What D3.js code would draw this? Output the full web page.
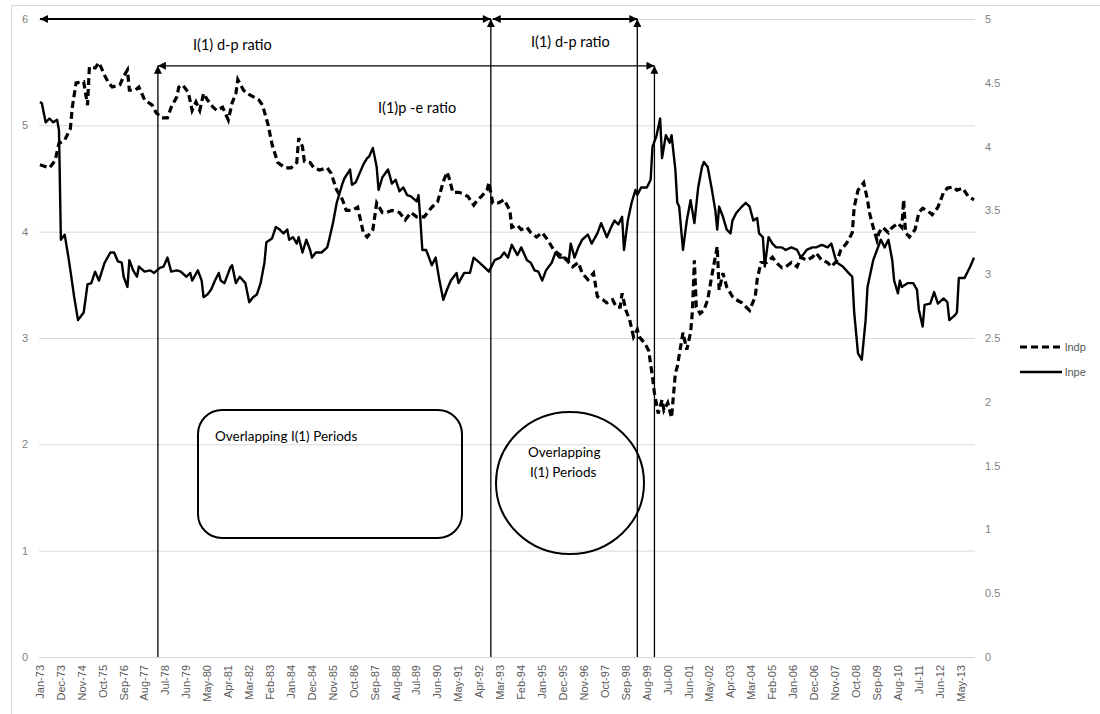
<!DOCTYPE html>
<html>
<head>
<meta charset="utf-8">
<script src="https://cdn.jsdelivr.net/npm/d3@7"></script>
<style>
  body { margin: 0; background: #fff; }
  svg { display: block; }
</style>
</head>
<body>
<div id="chart"></div>
<script>
// monthly categories Jan-73 .. Dec-13, labels every 11th month
const monthCount = 492;
const tickLabels = ['Jan-73','Dec-73','Nov-74','Oct-75','Sep-76','Aug-77','Jul-78','Jun-79','May-80','Apr-81',
  'Mar-82','Feb-83','Jan-84','Dec-84','Nov-85','Oct-86','Sep-87','Aug-88','Jul-89','Jun-90','May-91','Apr-92',
  'Mar-93','Feb-94','Jan-95','Dec-95','Nov-96','Oct-97','Sep-98','Aug-99','Jul-00','Jun-01','May-02','Apr-03',
  'Mar-04','Feb-05','Jan-06','Dec-06','Nov-07','Oct-08','Sep-09','Aug-10','Jul-11','Jun-12','May-13'];
const leftTicks = [0, 1, 2, 3, 4, 5, 6];
const rightTicks = [0, 0.5, 1, 1.5, 2, 2.5, 3, 3.5, 4, 4.5, 5];

// lndp (left axis) : [month index, value]
const lndp = [[0,4.63],[5,4.60],[8,4.67],[10,4.83],[13,4.86],[16,4.97],[17,5.17],[19,5.40],[23,5.41],[25,5.19],
  [26,5.55],[29,5.54],[31,5.59],[34,5.47],[36,5.40],[38,5.36],[42,5.38],[44,5.46],[46,5.52],[47,5.33],[50,5.33],
  [52,5.36],[55,5.24],[59,5.19],[61,5.12],[64,5.07],[67,5.07],[69,5.17],[72,5.27],[73,5.36],[75,5.38],[78,5.31],
  [80,5.14],[82,5.22],[84,5.14],[86,5.30],[88,5.24],[91,5.17],[93,5.14],[96,5.17],[99,5.05],[101,5.21],[103,5.30],
  [104,5.43],[107,5.33],[109,5.30],[112,5.27],[115,5.24],[117,5.19],[120,5.00],[122,4.82],[125,4.65],[129,4.60],
  [132,4.60],[135,4.65],[136,4.88],[138,4.80],[139,4.66],[142,4.65],[144,4.60],[147,4.58],[151,4.60],[153,4.55],
  [156,4.39],[159,4.30],[161,4.20],[164,4.20],[167,4.23],[170,3.99],[172,3.95],[175,4.02],[177,4.27],[180,4.18],
  [182,4.18],[185,4.20],[189,4.18],[192,4.11],[195,4.18],[198,4.14],[202,4.14],[206,4.23],[209,4.28],[212,4.47],
  [214,4.56],[215,4.51],[217,4.37],[220,4.37],[222,4.36],[225,4.33],[228,4.25],[230,4.30],[232,4.33],[235,4.39],
  [236,4.46],[238,4.27],[241,4.27],[244,4.30],[247,4.20],[248,4.04],[251,4.06],[253,4.02],[256,4.04],[258,3.99],
  [261,3.95],[264,3.99],[267,3.92],[270,3.83],[272,3.80],[275,3.76],[277,3.73],[280,3.67],[283,3.71],[285,3.61],
  [288,3.55],[291,3.61],[293,3.39],[296,3.36],[298,3.33],[301,3.36],[303,3.29],[305,3.29],[306,3.42],[308,3.26],
  [310,3.17],[312,3.01],[314,3.08],[315,3.01],[318,2.95],[320,2.88],[322,2.63],[323,2.48],[325,2.29],[327,2.42],
  [328,2.32],[330,2.39],[332,2.25],[334,2.67],[335,2.73],[338,3.05],[340,2.89],[342,3.05],[343,3.26],[344,3.73],
  [345,3.29],[347,3.23],[349,3.26],[351,3.36],[353,3.57],[356,3.86],[357,3.45],[359,3.61],[361,3.48],[364,3.39],
  [366,3.36],[369,3.33],[373,3.26],[376,3.39],[377,3.55],[379,3.71],[382,3.71],[385,3.76],[387,3.71],[390,3.66],
  [392,3.67],[395,3.71],[398,3.67],[400,3.76],[403,3.73],[406,3.76],[408,3.80],[411,3.73],[414,3.71],[416,3.67],
  [419,3.73],[421,3.83],[424,3.89],[427,3.99],[428,4.23],[430,4.39],[433,4.46],[435,4.30],[436,4.18],[438,4.04],
  [440,3.92],[441,3.99],[443,4.04],[446,3.99],[448,4.04],[451,4.08],[453,4.04],[454,4.30],[455,3.99],[457,3.95],
  [460,4.02],[462,4.18],[464,4.22],[467,4.19],[469,4.16],[472,4.23],[475,4.37],[477,4.41],[480,4.42],[482,4.39],
  [485,4.41],[488,4.33],[491,4.30]];

// lnpe (right axis)
const lnpe = [[0,4.35],[1,4.34],[3,4.19],[5,4.22],[7,4.19],[9,4.21],[10,4.13],[11,3.27],[13,3.31],[15,3.13],
  [16,3.03],[18,2.82],[20,2.64],[22,2.68],[23,2.70],[25,2.92],[27,2.93],[29,3.02],[31,2.95],[34,3.09],[37,3.17],
  [39,3.17],[41,3.10],[43,3.09],[44,2.98],[46,2.90],[47,3.11],[49,3.03],[51,2.98],[52,3.06],[55,3.02],[58,3.03],
  [60,3.01],[63,3.05],[65,3.06],[67,3.13],[69,3.02],[72,3.03],[74,3.02],[77,2.98],[79,3.01],[80,2.95],[83,3.03],
  [85,2.95],[86,2.82],[88,2.84],[90,2.88],[92,2.95],[94,3.01],[95,2.95],[97,2.93],[100,3.05],[101,3.07],[103,2.93],
  [105,2.98],[108,2.93],[110,2.78],[112,2.82],[114,2.84],[116,2.93],[118,3.09],[119,3.25],[122,3.28],[124,3.37],
  [126,3.35],[128,3.32],[130,3.35],[131,3.27],[133,3.29],[135,3.24],[136,3.29],[138,3.17],[140,3.27],[142,3.19],
  [143,3.13],[145,3.17],[148,3.17],[151,3.21],[152,3.27],[154,3.40],[156,3.56],[159,3.71],[160,3.75],[163,3.82],
  [164,3.70],[166,3.72],[168,3.79],[170,3.86],[172,3.91],[173,3.92],[175,3.99],[177,3.84],[178,3.66],[180,3.76],
  [183,3.82],[185,3.71],[187,3.74],[189,3.65],[191,3.68],[193,3.62],[195,3.61],[198,3.57],[199,3.62],[200,3.42],
  [201,3.19],[203,3.19],[206,3.07],[208,3.13],[210,2.95],[212,2.80],[214,2.88],[216,2.95],[219,3.01],[220,2.93],
  [223,3.01],[226,3.01],[228,3.13],[231,3.09],[234,3.05],[236,3.02],[239,3.11],[242,3.13],[244,3.17],[246,3.13],
  [248,3.23],[251,3.15],[253,3.21],[256,3.11],[258,3.09],[260,3.03],[262,3.02],[264,2.95],[266,3.03],[269,3.09],
  [271,3.17],[273,3.13],[276,3.13],[278,3.11],[279,3.24],[281,3.13],[283,3.21],[285,3.27],[288,3.31],[290,3.24],
  [293,3.32],[295,3.40],[298,3.29],[300,3.36],[302,3.42],[304,3.39],[306,3.45],[307,3.19],[309,3.42],[311,3.56],
  [313,3.66],[314,3.62],[316,3.68],[319,3.68],[321,3.74],[322,4.00],[324,4.08],[326,4.22],[327,3.91],[329,4.09],
  [331,4.03],[332,4.09],[334,3.82],[335,3.56],[336,3.53],[338,3.19],[340,3.42],[342,3.58],[344,3.40],[346,3.68],
  [348,3.84],[349,3.88],[351,3.84],[353,3.68],[355,3.50],[356,3.35],[357,3.53],[359,3.45],[361,3.35],[363,3.32],
  [364,3.42],[366,3.48],[369,3.53],[371,3.56],[373,3.53],[375,3.42],[377,3.44],[378,3.32],[380,3.29],[381,3.06],
  [383,3.29],[385,3.24],[387,3.21],[390,3.21],[392,3.19],[395,3.21],[398,3.19],[400,3.13],[403,3.19],[406,3.21],
  [408,3.21],[411,3.23],[414,3.21],[416,3.24],[418,3.13],[419,3.09],[422,3.06],[425,3.01],[427,2.98],[428,2.70],
  [430,2.38],[432,2.33],[434,2.64],[435,2.90],[438,3.11],[440,3.19],[442,3.27],[444,3.21],[446,3.27],[448,3.11],
  [449,2.95],[451,2.85],[452,2.95],[453,2.90],[456,2.93],[459,2.93],[461,2.88],[462,2.72],[464,2.59],[465,2.76],
  [468,2.77],[470,2.86],[472,2.77],[475,2.81],[477,2.78],[478,2.64],[481,2.68],[482,2.70],[483,2.97],[486,2.97],
  [489,3.06],[491,3.13]];

// I(1) period markers (month index) and the arrow levels (left axis value)
const periodBreaks = [62, 237, 314, 323];
const periodArrows = [[0, 237, 6.0], [238, 314, 6.0], [62, 323, 5.56]];

const W = 1100, H = 714;
const svg = d3.select('#chart').append('svg')
  .attr('width', W).attr('height', H);

// chart frame
svg.append('rect')
  .attr('x', 11.5).attr('y', 5.5).attr('width', W).attr('height', H)
  .attr('fill', 'none').attr('stroke', '#d9d9d9');

const x = d3.scaleBand().domain(d3.range(monthCount)).range([39, 975]);
const xc = i => x(i) + x.bandwidth() / 2;
const yL = d3.scaleLinear().domain([0, 6]).range([657, 19]);
const yR = d3.scaleLinear().domain([0, 5]).range([657, 19]);

// gridlines
svg.append('g').selectAll('line').data(leftTicks).enter().append('line')
  .attr('x1', 39).attr('x2', 975)
  .attr('y1', d => yL(d) + 0.5).attr('y2', d => yL(d) + 0.5)
  .attr('stroke', '#d9d9d9').attr('stroke-width', 1);

// left axis
const gl = svg.append('g').attr('transform', 'translate(32,0)')
  .call(d3.axisLeft(yL).tickValues(leftTicks).tickFormat(d3.format('')).tickSize(0).tickPadding(4));
gl.select('.domain').remove();
gl.selectAll('text').style('font-family', 'Liberation Sans, Arial').style('font-size', '11px').attr('fill', '#7f7f7f');

// right axis
const gr = svg.append('g').attr('transform', 'translate(982,0)')
  .call(d3.axisRight(yR).tickValues(rightTicks).tickFormat(d3.format('')).tickSize(0).tickPadding(3));
gr.select('.domain').remove();
gr.selectAll('text').style('font-family', 'Liberation Sans, Arial').style('font-size', '11px').attr('fill', '#7f7f7f');

// bottom axis, every 11th month
const gx = svg.append('g').attr('transform', 'translate(0,657)')
  .call(d3.axisBottom(x)
    .tickValues(tickLabels.map((d, i) => i * 11))
    .tickFormat((d, i) => tickLabels[i])
    .tickSize(0));
gx.select('.domain').remove();
gx.selectAll('text')
  .style('font-family', 'Liberation Sans, Arial').style('font-size', '11px').attr('fill', '#595959')
  .attr('text-anchor', 'end').attr('dy', '0.35em')
  .attr('transform', 'translate(0,8) rotate(-90)')
  .attr('x', 0).attr('y', 0);

// series
const lineL = d3.line().x(d => xc(d[0])).y(d => yL(d[1]));
const lineR = d3.line().x(d => xc(d[0])).y(d => yR(d[1]));

svg.append('path').datum(lnpe)
  .attr('d', lineR).attr('fill', 'none')
  .attr('stroke', '#000').attr('stroke-width', 2.4).attr('stroke-linejoin', 'round');

svg.append('path').datum(lndp)
  .attr('d', lineL).attr('fill', 'none')
  .attr('stroke', '#000').attr('stroke-width', 3.2).attr('stroke-dasharray', '7,4');

// arrow markers
const defs = svg.append('defs');
defs.append('marker').attr('id', 'arr')
  .attr('viewBox', '0 0 10 10').attr('refX', 10).attr('refY', 5)
  .attr('markerWidth', 9).attr('markerHeight', 8).attr('markerUnits', 'userSpaceOnUse')
  .attr('orient', 'auto-start-reverse')
  .append('path').attr('d', 'M0,0 L10,5 L0,10 Z').attr('fill', '#000');

const ann = svg.append('g');

// vertical period lines with arrowhead pointing up
const breakTop = [5.56, 6.0, 6.0, 5.56];
ann.selectAll('.vbreak').data(periodBreaks).enter().append('line')
  .attr('class', 'vbreak')
  .attr('x1', d => xc(d)).attr('x2', d => xc(d))
  .attr('y1', yL(0)).attr('y2', (d, i) => yL(breakTop[i]))
  .attr('stroke', '#000').attr('stroke-width', 1.3)
  .attr('marker-end', 'url(#arr)');

// horizontal double arrows
ann.selectAll('.harrow').data(periodArrows).enter().append('line')
  .attr('class', 'harrow')
  .attr('x1', d => xc(d[0])).attr('x2', d => xc(d[1]))
  .attr('y1', d => yL(d[2])).attr('y2', d => yL(d[2]))
  .attr('stroke', '#000').attr('stroke-width', (d, i) => i === 2 ? 1.3 : 2)
  .attr('marker-start', 'url(#arr)').attr('marker-end', 'url(#arr)');

const annFont = 'Lato, Open Sans, sans-serif';
const labels = [
  { text: 'I(1) d-p ratio', x: 193, y: 50 },
  { text: 'I(1) d-p ratio', x: 531, y: 47 },
  { text: 'I(1)p -e ratio', x: 378, y: 113 }
];
ann.selectAll('.lbl').data(labels).enter().append('text')
  .attr('x', d => d.x).attr('y', d => d.y)
  .style('font-family', annFont).style('font-size', '14.5px').attr('fill', '#000')
  .text(d => d.text);

// overlapping period boxes
ann.append('rect')
  .attr('x', 198).attr('y', 410).attr('width', 264).attr('height', 128)
  .attr('rx', 24).attr('ry', 24)
  .attr('fill', 'none').attr('stroke', '#000').attr('stroke-width', 2);
ann.append('text').attr('x', 215).attr('y', 441)
  .style('font-family', annFont).style('font-size', '13.5px').text('Overlapping I(1) Periods');

ann.append('ellipse')
  .attr('cx', 570).attr('cy', 483).attr('rx', 74).attr('ry', 71)
  .attr('fill', 'none').attr('stroke', '#000').attr('stroke-width', 2);
ann.append('text').attr('x', 528).attr('y', 457)
  .style('font-family', annFont).style('font-size', '13.5px').text('Overlapping');
ann.append('text').attr('x', 530).attr('y', 477)
  .style('font-family', annFont).style('font-size', '13.5px').text('I(1) Periods');

// legend
const legend = svg.append('g');
const legendItems = [
  { name: 'lndp', dash: '7,4', w: 3.2, y: 347 },
  { name: 'lnpe', dash: null, w: 2.4, y: 372 }
];
legendItems.forEach(d => {
  legend.append('line')
    .attr('x1', 1020).attr('x2', 1062).attr('y1', d.y).attr('y2', d.y)
    .attr('stroke', '#000').attr('stroke-width', d.w)
    .attr('stroke-dasharray', d.dash);
  legend.append('text')
    .attr('x', 1065).attr('y', d.y).attr('dy', '0.35em')
    .style('font-family', 'Liberation Sans, Arial').style('font-size', '11px').attr('fill', '#595959')
    .text(d.name);
});
</script>
</body>
</html>
